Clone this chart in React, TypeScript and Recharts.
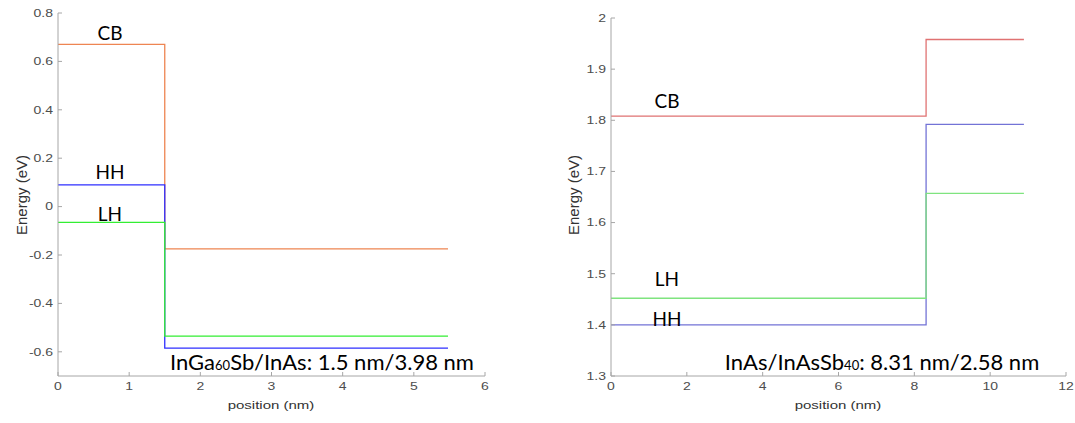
// two band-edge step plots side by side (MATLAB look)
import { LineChart, Line, XAxis, YAxis } from "recharts"

// left panel: InGa60Sb / InAs
const leftPos = [0, 1.5, 5.48]
const leftCB = [0.67, -0.175, -0.175]
const leftHH = [0.09, -0.585, -0.585]
const leftLH = [-0.065, -0.535, -0.535]
const leftXTicks = [0, 1, 2, 3, 4, 5, 6]
const leftYTicks = [-0.6, -0.4, -0.2, 0, 0.2, 0.4, 0.6, 0.8]

// right panel: InAs / InAsSb40
const rightPos = [0, 8.31, 10.89]
const rightCB = [1.808, 1.958, 1.958]
const rightHH = [1.4, 1.792, 1.792]
const rightLH = [1.452, 1.657, 1.657]
const rightXTicks = [0, 2, 4, 6, 8, 10, 12]
const rightYTicks = [1.3, 1.4, 1.5, 1.6, 1.7, 1.8, 1.9, 2]

const AXIS = "#a6a6a6"
const TICK_FONT = "Liberation Sans, Arial, sans-serif"
const LABEL_FONT = "Lato, 'Open Sans', sans-serif"
// the matlab part of the source image is squashed vertically
const SQUASH = 0.75

const fmt = (v: number) => String(Math.round(v * 10) / 10)

function XTick({ x, y, payload }: any) {
  return (
    <text
      transform={`translate(${x} ${y + 7.5}) scale(1 ${SQUASH})`}
      textAnchor="middle"
      fill="#4d4d4d"
      fontSize={14}
      fontFamily={TICK_FONT}
    >
      {fmt(payload.value)}
    </text>
  )
}
function YTick({ x, y, payload }: any) {
  return (
    <text
      transform={`translate(${x} ${y + 3.8}) scale(1 ${SQUASH})`}
      textAnchor="end"
      fill="#4d4d4d"
      fontSize={14}
      fontFamily={TICK_FONT}
    >
      {fmt(payload.value)}
    </text>
  )
}

type PanelProps = {
  pos: number[]
  cb: number[]
  hh: number[]
  lh: number[]
  xTicks: number[]
  yTicks: number[]
  xDomain: [number, number]
  yDomain: [number, number]
  colors: { cb: string; hh: string; lh: string }
  width: number
  yAxisWidth: number
  marginTop: number
  marginRight: number
}

function Panel(p: PanelProps) {
  const data = p.pos.map((x, i) => ({ x, cb: p.cb[i], hh: p.hh[i], lh: p.lh[i] }))
  const blank = () => ""
  return (
    <LineChart
      width={p.width}
      height={423}
      data={data}
      margin={{ top: p.marginTop, right: p.marginRight, bottom: 17, left: 0 }}
    >
      <XAxis
        dataKey="x"
        type="number"
        domain={p.xDomain}
        ticks={p.xTicks}
        allowDataOverflow
        height={30}
        stroke={AXIS}
        tick={<XTick />}
        tickSize={-4}
        tickMargin={10}
      />
      <XAxis
        xAxisId="top"
        orientation="top"
        dataKey="x"
        type="number"
        domain={p.xDomain}
        ticks={p.xTicks}
        allowDataOverflow
        height={0}
        stroke={AXIS}
        tickFormatter={blank}
        tickSize={-4}
      />
      <YAxis
        type="number"
        domain={p.yDomain}
        ticks={p.yTicks}
        allowDataOverflow
        width={p.yAxisWidth}
        stroke={AXIS}
        tick={<YTick />}
        tickSize={-4}
        tickMargin={9}
      />
      <YAxis
        yAxisId="right"
        orientation="right"
        type="number"
        domain={p.yDomain}
        ticks={p.yTicks}
        allowDataOverflow
        width={0}
        stroke={AXIS}
        tickFormatter={blank}
        tickSize={-4}
      />
      <Line type="stepAfter" dataKey="cb" stroke={p.colors.cb} strokeWidth={1.3} dot={false} isAnimationActive={false} />
      <Line type="stepAfter" dataKey="hh" stroke={p.colors.hh} strokeWidth={1.3} dot={false} isAnimationActive={false} />
      <Line type="stepAfter" dataKey="lh" stroke={p.colors.lh} strokeWidth={1.3} dot={false} isAnimationActive={false} />
    </LineChart>
  )
}

function Txt({ x, y, size, children, squash }: { x: number; y: number; size: number; children: React.ReactNode; squash?: boolean }) {
  return (
    <div
      style={{
        position: "absolute",
        left: x,
        top: y,
        transform: `translate(-50%, -50%)${squash ? ` scale(1, ${SQUASH})` : ""}`,
        fontSize: size,
        whiteSpace: "nowrap",
        lineHeight: 1,
        fontFamily: size > 16 ? LABEL_FONT : TICK_FONT,
        color: size > 16 ? "#000" : "#333",
      }}
    >
      {children}
    </div>
  )
}

export default function App() {
  return (
    <div style={{ position: "absolute", left: 0, top: 0, width: 1075, height: 423, background: "#fff", overflow: "hidden" }}>
      <div style={{ position: "absolute", left: 0, top: 0 }}>
        <Panel
          pos={leftPos}
          cb={leftCB}
          hh={leftHH}
          lh={leftLH}
          xTicks={leftXTicks}
          yTicks={leftYTicks}
          xDomain={[0, 6]}
          yDomain={[-0.7, 0.8]}
          colors={{ cb: "#ee8552", hh: "#2f2fff", lh: "#33ee33" }}
          width={500}
          yAxisWidth={58}
          marginTop={13}
          marginRight={15}
        />
      </div>
      <div style={{ position: "absolute", left: 540, top: 0 }}>
        <Panel
          pos={rightPos}
          cb={rightCB}
          hh={rightHH}
          lh={rightLH}
          xTicks={rightXTicks}
          yTicks={rightYTicks}
          xDomain={[0, 12]}
          yDomain={[1.3, 2]}
          colors={{ cb: "#e07272", hh: "#7373d6", lh: "#7fe47f" }}
          width={535}
          yAxisWidth={71}
          marginTop={18}
          marginRight={9}
        />
      </div>

      {/* axis titles */}
      <Txt x={21} y={195} size={15}>
        <div style={{ transform: "rotate(-90deg)" }}>Energy (eV)</div>
      </Txt>
      <Txt x={271} y={405} size={15} squash>position (nm)</Txt>
      <Txt x={573} y={195} size={15}>
        <div style={{ transform: "rotate(-90deg)" }}>Energy (eV)</div>
      </Txt>
      <Txt x={838} y={405} size={15} squash>position (nm)</Txt>

      {/* band labels */}
      <Txt x={110} y={32} size={19}>CB</Txt>
      <Txt x={110} y={171} size={19}>HH</Txt>
      <Txt x={110} y={213} size={19}>LH</Txt>
      <Txt x={667} y={100} size={19}>CB</Txt>
      <Txt x={667} y={278} size={19}>LH</Txt>
      <Txt x={667} y={318} size={19}>HH</Txt>

      {/* structure annotations */}
      <Txt x={322} y={362} size={22}>
        InGa<span style={{ fontSize: 13 }}>60</span>Sb/InAs: 1.5 nm/3.98 nm
      </Txt>
      <Txt x={882} y={362} size={22}>
        InAs/InAsSb<span style={{ fontSize: 13 }}>40</span>: 8.31 nm/2.58 nm
      </Txt>
    </div>
  )
}
